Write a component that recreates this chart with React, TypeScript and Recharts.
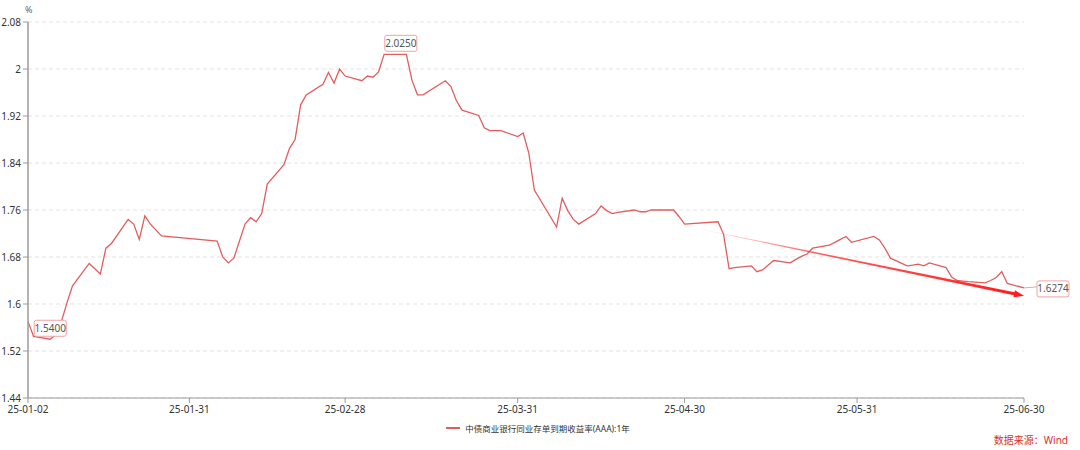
import React from 'react';
import { LineChart, Line, XAxis, YAxis, CartesianGrid, Legend, ReferenceLine, LabelList } from 'recharts';

const dates = [
  '2025-01-02', '2025-01-03', '2025-01-06', '2025-01-07', '2025-01-08', '2025-01-09', '2025-01-10',
  '2025-01-13', '2025-01-14', '2025-01-15', '2025-01-16', '2025-01-17', '2025-01-20', '2025-01-21',
  '2025-01-22', '2025-01-23', '2025-01-24', '2025-01-26', '2025-02-05', '2025-02-06', '2025-02-07',
  '2025-02-08', '2025-02-10', '2025-02-11', '2025-02-12', '2025-02-13', '2025-02-14', '2025-02-17',
  '2025-02-18', '2025-02-19', '2025-02-20', '2025-02-21', '2025-02-24', '2025-02-25', '2025-02-26',
  '2025-02-27', '2025-02-28', '2025-03-03', '2025-03-04', '2025-03-05', '2025-03-06', '2025-03-07',
  '2025-03-10', '2025-03-11', '2025-03-12', '2025-03-13', '2025-03-14', '2025-03-17', '2025-03-18',
  '2025-03-19', '2025-03-20', '2025-03-21', '2025-03-24', '2025-03-25', '2025-03-26', '2025-03-27',
  '2025-03-28', '2025-03-31', '2025-04-01', '2025-04-02', '2025-04-03', '2025-04-07', '2025-04-08',
  '2025-04-09', '2025-04-10', '2025-04-11', '2025-04-14', '2025-04-15', '2025-04-16', '2025-04-17',
  '2025-04-18', '2025-04-21', '2025-04-22', '2025-04-23', '2025-04-24', '2025-04-25', '2025-04-27',
  '2025-04-28', '2025-04-29', '2025-04-30', '2025-05-06', '2025-05-07', '2025-05-08', '2025-05-09',
  '2025-05-12', '2025-05-13', '2025-05-14', '2025-05-15', '2025-05-16', '2025-05-19', '2025-05-20',
  '2025-05-21', '2025-05-22', '2025-05-23', '2025-05-26', '2025-05-27', '2025-05-28', '2025-05-29',
  '2025-05-30', '2025-06-03', '2025-06-04', '2025-06-05', '2025-06-06', '2025-06-09', '2025-06-10',
  '2025-06-11', '2025-06-12', '2025-06-13', '2025-06-16', '2025-06-17', '2025-06-18', '2025-06-19',
  '2025-06-20', '2025-06-23', '2025-06-24', '2025-06-25', '2025-06-26', '2025-06-27', '2025-06-30',
];

const values = [
  1.570, 1.545, 1.540, 1.548, 1.570, 1.602, 1.631,
  1.669, 1.660, 1.651, 1.695, 1.703, 1.744, 1.736,
  1.710, 1.750, 1.736, 1.716, 1.707, 1.680, 1.670,
  1.678, 1.736, 1.747, 1.740, 1.754, 1.804, 1.837,
  1.865, 1.880, 1.939, 1.956, 1.974, 1.994, 1.976,
  2.000, 1.988, 1.980, 1.988, 1.986, 1.995, 2.025,
  2.025, 2.025, 1.981, 1.956, 1.956, 1.974, 1.980,
  1.970, 1.946, 1.930, 1.921, 1.900, 1.895, 1.895,
  1.895, 1.885, 1.891, 1.857, 1.794, 1.731, 1.780,
  1.759, 1.744, 1.736, 1.754, 1.767, 1.759, 1.754,
  1.756, 1.760, 1.757, 1.757, 1.760, 1.760, 1.760,
  1.760, 1.749, 1.736, 1.740, 1.719, 1.660, 1.662,
  1.665, 1.655, 1.658, 1.666, 1.674, 1.670, 1.676,
  1.681, 1.685, 1.695, 1.700, 1.705, 1.710, 1.715,
  1.705, 1.715, 1.709, 1.695, 1.678, 1.665, 1.666,
  1.668, 1.665, 1.670, 1.662, 1.646, 1.640, 1.639,
  1.638, 1.636, 1.640, 1.645, 1.655, 1.635, 1.6274,
];

const yTicks = [1.44, 1.52, 1.6, 1.68, 1.76, 1.84, 1.92, 2.0, 2.08];
const xTickDates = ['2025-01-02', '2025-01-31', '2025-02-28', '2025-03-31', '2025-04-30', '2025-05-31', '2025-06-30'];
const xTickLabels = ['25-01-02', '25-01-31', '25-02-28', '25-03-31', '25-04-30', '25-05-31', '25-06-30'];
const seriesName = '中债商业银行同业存单到期收益率(AAA):1年';
const labelDates = ['2025-01-06', '2025-03-10', '2025-06-30'];
const trendDates = ['2025-05-03', '2025-06-30'];
const trendValues = [1.727, 1.614];
const unitText = '%';
const sourceText = '数据来源：Wind';

const LINE_COLOR = '#e35d5d';
const FONT = '"Noto Sans", "Noto Sans CJK SC", sans-serif';

const DAY_MS = 86400000;
const ORIGIN = Date.UTC(2025, 0, 2);
const toDay = (s: string) => {
  const [y, m, d] = s.split('-').map(Number);
  return Math.round((Date.UTC(y, m - 1, d) - ORIGIN) / DAY_MS);
};

const data = dates.map((d, i) => ({
  day: toDay(d),
  value: values[i],
  lab: labelDates.includes(d) ? values[i].toFixed(4) : null,
}));

const xTicks = xTickDates.map(toDay);
const xDomainMax = toDay(xTickDates[xTickDates.length - 1]);
const xLabelOf = (v: number) => {
  const i = xTicks.indexOf(v);
  return i >= 0 ? xTickLabels[i] : '';
};
const yLabelOf = (v: number) => String(Number(v.toFixed(2)));

const LabelBox = (props: any) => {
  const { x, y, value } = props;
  if (value == null || x == null || y == null) return null;
  const w = 32;
  const h = 16;
  const right = x > 900;
  const bx = right ? x + 13 : x - w / 2;
  const by = right ? y - h / 2 + 1 : y - 11 - h / 2;
  return (
    <g>
      {right && <line x1={x} y1={y} x2={bx} y2={y - 1} stroke="#f2a3a3" strokeWidth={1} />}
      <rect x={bx} y={by} width={w} height={h} rx={2} ry={2} fill="#fff" stroke="#f2a3a3" strokeWidth={1} />
      <text
        x={bx + w / 2}
        y={by + h / 2 + 3.5}
        textAnchor="middle"
        fontSize={10}
        fill="#555"
        fontFamily={FONT}
      >
        {value}
      </text>
    </g>
  );
};

const TrendArrow = (p: any) => {
  const { x1, y1, x2, y2 } = p;
  if ([x1, y1, x2, y2].some((v) => typeof v !== 'number' || isNaN(v))) return null;
  const dx = x2 - x1;
  const dy = y2 - y1;
  const L = Math.hypot(dx, dy);
  const ux = dx / L;
  const uy = dy / L;
  const nx = -uy;
  const ny = ux;
  const head = 10;
  const hw = 3.6;
  const bx = x2 - ux * head;
  const by = y2 - uy * head;
  const w0 = 0.3;
  const w1 = 1.5;
  const pts = [
    [x1 + nx * w0, y1 + ny * w0],
    [bx + nx * w1, by + ny * w1],
    [bx + nx * hw, by + ny * hw],
    [x2, y2],
    [bx - nx * hw, by - ny * hw],
    [bx - nx * w1, by - ny * w1],
    [x1 - nx * w0, y1 - ny * w0],
  ]
    .map((q) => q.join(','))
    .join(' ');
  return (
    <g>
      <defs>
        <linearGradient id="trendGrad" gradientUnits="userSpaceOnUse" x1={x1} y1={y1} x2={x2} y2={y2}>
          <stop offset="0" stopColor="#ff2a2a" stopOpacity={0} />
          <stop offset="0.35" stopColor="#ff2a2a" stopOpacity={0.75} />
          <stop offset="1" stopColor="#ff1a1a" stopOpacity={1} />
        </linearGradient>
      </defs>
      <polygon points={pts} fill="url(#trendGrad)" />
    </g>
  );
};

const LegendContent = () => (
  <div
    style={{
      display: 'flex',
      justifyContent: 'center',
      alignItems: 'center',
      fontFamily: FONT,
      fontSize: 8.5,
      color: '#333',
      height: 20,
      paddingLeft: 52,
    }}
  >
    <span style={{ display: 'inline-block', width: 14, height: 2, background: LINE_COLOR, marginRight: 5 }} />
    <span>{seriesName}</span>
  </div>
);

export default function App() {
  return (
    <div
      style={{
        position: 'absolute',
        left: 0,
        top: 0,
        width: 1080,
        height: 450,
        background: '#fff',
        fontFamily: FONT,
      }}
    >
      <LineChart width={1080} height={450} data={data} margin={{ top: 22, right: 56, bottom: 12, left: 0 }}>
        <CartesianGrid vertical={false} stroke="#e3e3e3" strokeDasharray="4 3" />
        <XAxis
          dataKey="day"
          type="number"
          domain={[0, xDomainMax]}
          ticks={xTicks}
          tickFormatter={xLabelOf}
          height={20}
          tickSize={5}
          tickMargin={3}
          axisLine={{ stroke: '#9a9a9a' }}
          tickLine={{ stroke: '#9a9a9a' }}
          tick={{ fontSize: 10, fill: '#333', fontFamily: FONT }}
          interval={0}
        />
        <YAxis
          domain={[yTicks[0], yTicks[yTicks.length - 1]]}
          ticks={yTicks}
          tickFormatter={yLabelOf}
          width={28}
          tickSize={5}
          tickMargin={2}
          axisLine={{ stroke: '#9a9a9a', strokeWidth: 1.5 }}
          tickLine={{ stroke: '#9a9a9a' }}
          tick={{ fontSize: 10, fill: '#333', fontFamily: FONT }}
          interval={0}
          allowDataOverflow
        />
        <Legend verticalAlign="bottom" height={20} content={<LegendContent />} />
        <Line
          type="linear"
          dataKey="value"
          name={seriesName}
          stroke={LINE_COLOR}
          strokeWidth={1.3}
          dot={false}
          activeDot={false}
          isAnimationActive={false}
        >
          <LabelList dataKey="lab" content={<LabelBox />} />
        </Line>
        <ReferenceLine
          segment={[
            { x: toDay(trendDates[0]), y: trendValues[0] },
            { x: toDay(trendDates[1]), y: trendValues[1] },
          ]}
          ifOverflow="visible"
          shape={(p: any) => <TrendArrow {...p} />}
        />
      </LineChart>
      <div style={{ position: 'absolute', left: 25, top: 3, fontSize: 9, color: '#666', fontFamily: FONT }}>{unitText}</div>
      <div style={{ position: 'absolute', right: 12, top: 432, fontSize: 10, color: '#d9302b', fontFamily: FONT }}>
        {sourceText}
      </div>
    </div>
  );
}
